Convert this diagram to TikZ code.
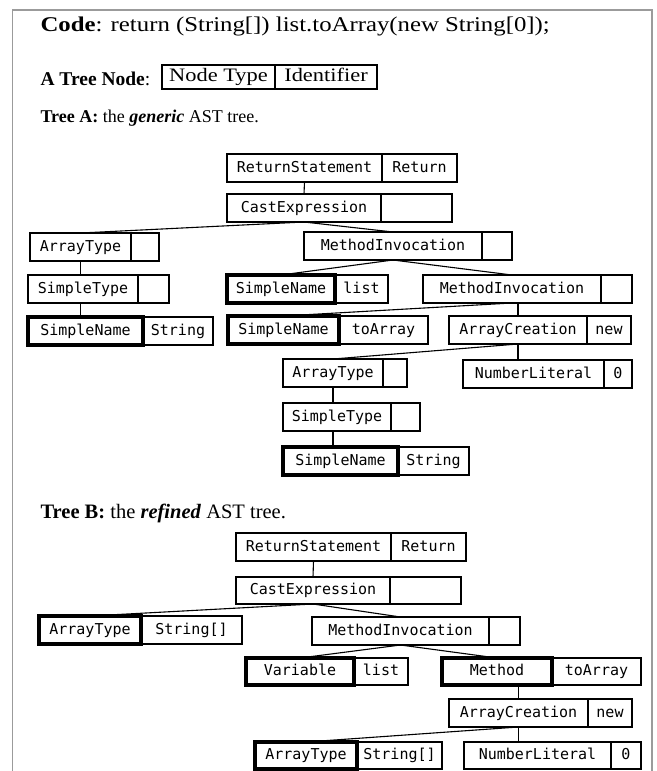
\documentclass[tikz,border=0pt]{standalone}
\usepackage{fontspec}
\setmainfont{Liberation Serif}
\newfontfamily\wideserif{Liberation Serif}[FakeStretch=1.18]
\newfontfamily\astfont{DejaVu Sans Mono}
\definecolor{framegrey}{RGB}{155,155,155}

\tikzset{
	caption/.style={anchor=base west,font=\fontsize{18}{22}\selectfont},
	astpart/.style={draw,rectangle,outer sep=0pt,inner sep=0pt,minimum height=28pt,text height=11pt,text depth=3pt,line width=1.1pt,font=\astfont\fontsize{15}{18}\selectfont},
	keypart/.style={astpart,line width=3.2pt},
	link/.style={line width=1.1pt}
}

\begin{document}
\begin{tikzpicture}[x=1pt,y=-1pt]

	\useasboundingbox (0,0) rectangle (656,771);
	\draw[framegrey,line width=1.4pt] (12.7,771) |- (652,10) -- (652,771);

	\node[caption,font=\wideserif\fontsize{21}{24}\selectfont] (code) at (37,31) {\textbf{Code}: return (String[]) list.toArray(new String[0]);};
	\node[caption,font=\fontsize{19.5}{22}\selectfont] (legend) at (37,85) {\textbf{A Tree Node}:};
	\begin{scope}[every node/.style={draw,rectangle,outer sep=0pt,inner sep=0pt,minimum height=24pt,text height=13pt,text depth=4pt,line width=1.1pt,font=\wideserif\fontsize{19}{22}\selectfont}]
		\node[anchor=north west,minimum width=113pt] (legendtype) at (162,65) {Node Type};
		\node[minimum width=102pt] (legendid) at (legendtype.east) [right] {Identifier};
	\end{scope}

	\node[caption] (treeA) at (37,122) {\textbf{Tree A:} the \textbf{\textit{generic}} AST tree.};

	\node[astpart,anchor=north west,minimum width=155pt] (aRet) at (227,154) {ReturnStatement};
	\node[astpart,minimum width=75pt] (aRetId) at (aRet.east) [right] {Return};
	\node[astpart,anchor=north west,minimum width=154pt] (aCast) at (227,194) {CastExpression};
	\node[astpart,minimum width=71pt] (aCastId) at (aCast.east) [right] {};
	\node[astpart,anchor=north west,minimum width=101pt] (aArrT) at (30,233) {ArrayType};
	\node[astpart,minimum width=28pt] (aArrTId) at (aArrT.east) [right] {};
	\node[astpart,anchor=north west,minimum width=178pt] (aMeth) at (304,232) {MethodInvocation};
	\node[astpart,minimum width=30pt] (aMethId) at (aMeth.east) [right] {};
	\node[astpart,anchor=north west,minimum width=110pt] (aSimT) at (28,275) {SimpleType};
	\node[astpart,minimum width=31pt] (aSimTId) at (aSimT.east) [right] {};
	\node[astpart,minimum width=53pt,anchor=north west] (aNameLId) at (335,275) {list};
	\node[keypart,minimum width=108pt] (aNameL) at (aNameLId.west) [left] {SimpleName};
	\node[astpart,anchor=north west,minimum width=178pt] (aMeth2) at (423,275) {MethodInvocation};
	\node[astpart,minimum width=31pt] (aMeth2Id) at (aMeth2.east) [right] {};
	\node[astpart,minimum width=70pt,anchor=north west] (aNameSId) at (143,317) {String};
	\node[keypart,minimum width=115pt] (aNameS) at (aNameSId.west) [left] {SimpleName};
	\node[astpart,minimum width=89pt,anchor=north west] (aNameTId) at (339,316) {toArray};
	\node[keypart,minimum width=111pt] (aNameT) at (aNameTId.west) [left] {SimpleName};
	\node[astpart,anchor=north west,minimum width=138pt] (aArrC) at (449,316) {ArrayCreation};
	\node[astpart,minimum width=44pt] (aArrCId) at (aArrC.east) [right] {new};
	\node[astpart,anchor=north west,minimum width=100pt] (aArrT2) at (283,359) {ArrayType};
	\node[astpart,minimum width=24pt] (aArrT2Id) at (aArrT2.east) [right] {};
	\node[astpart,anchor=north west,minimum width=141pt] (aNum) at (463,360) {NumberLiteral};
	\node[astpart,minimum width=28pt] (aNumId) at (aNum.east) [right] {0};
	\node[astpart,anchor=north west,minimum width=108pt] (aSimT2) at (283,403) {SimpleType};
	\node[astpart,minimum width=29pt] (aSimT2Id) at (aSimT2.east) [right] {};
	\node[astpart,minimum width=71pt,anchor=north west] (aNameS2Id) at (398,447) {String};
	\node[keypart,minimum width=115pt] (aNameS2) at (aNameS2Id.west) [left] {SimpleName};

	\draw[link] (aRet.south) -- (aCast.north);
	\draw[link] (aCast.south) -- (aArrT.north);
	\draw[link] (aCast.south) -- (aMeth.north);
	\draw[link] (aArrT.south) -- (aArrT.south |- aSimT.north);
	\draw[link] (aSimT.south -| aArrT.south) -- (aArrT.south |- aNameS.north);
	\draw[link] (aMeth.south) -- (aNameL.north);
	\draw[link] (aMeth.south) -- (aMeth2.north);
	\draw[link] (aMeth2.south) -- (aNameT.north);
	\draw[link] (aArrC.north |- aMeth2.south) -- (aArrC.north);
	\draw[link] (aArrC.south) -- (aArrT2.north);
	\draw[link] (aArrC.south) -- (aArrC.south |- aNum.north);
	\draw[link] (aArrT2.south) -- (aArrT2.south |- aSimT2.north);
	\draw[link] (aSimT2.south -| aArrT2.south) -- (aArrT2.south |- aNameS2.north);

	\node[caption,font=\fontsize{20.5}{24}\selectfont] (treeB) at (37,518) {\textbf{Tree B:} the \textbf{\textit{refined}} AST tree.};

	\node[astpart,anchor=north west,minimum width=155pt] (bRet) at (236,533) {ReturnStatement};
	\node[astpart,minimum width=75pt] (bRetId) at (bRet.east) [right] {Return};
	\node[astpart,anchor=north west,minimum width=154pt,minimum height=27pt] (bCast) at (236,577) {CastExpression};
	\node[astpart,minimum width=71pt,minimum height=27pt] (bCastId) at (bCast.east) [right] {};
	\node[astpart,minimum width=101pt,anchor=north west] (bArrTId) at (141,616) {String[]};
	\node[keypart,minimum width=102pt] (bArrT) at (bArrTId.west) [left] {ArrayType};
	\node[astpart,anchor=north west,minimum width=177pt] (bMeth) at (312,617) {MethodInvocation};
	\node[astpart,minimum width=31pt] (bMethId) at (bMeth.east) [right] {};
	\node[astpart,minimum width=54pt,minimum height=27pt,anchor=north west] (bVarId) at (354,658) {list};
	\node[keypart,minimum width=108pt,minimum height=27pt] (bVar) at (bVarId.west) [left] {Variable};
	\node[astpart,minimum width=89pt,minimum height=27pt,anchor=north west] (bMethodId) at (552,658) {toArray};
	\node[keypart,minimum width=110pt,minimum height=27pt] (bMethod) at (bMethodId.west) [left] {Method};
	\node[astpart,anchor=north west,minimum width=139pt] (bArrC) at (449,699) {ArrayCreation};
	\node[astpart,minimum width=44pt] (bArrCId) at (bArrC.east) [right] {new};
	\node[astpart,minimum width=85pt,minimum height=27pt,anchor=north west] (bArrT2Id) at (357,742) {String[]};
	\node[keypart,minimum width=102pt,minimum height=27pt] (bArrT2) at (bArrT2Id.west) [left] {ArrayType};
	\node[astpart,anchor=north west,minimum width=147pt,minimum height=27pt] (bNum) at (464,742) {NumberLiteral};
	\node[astpart,minimum width=30pt,minimum height=27pt] (bNumId) at (bNum.east) [right] {0};

	\draw[link] (bRet.south) -- (bCast.north);
	\draw[link] (bCast.south) -- (bArrT.north);
	\draw[link] (bCast.south) -- (bMeth.north);
	\draw[link] (bMeth.south) -- (bVar.north);
	\draw[link] (bMeth.south) -- (bMethod.north);
	\draw[link] (bArrC.north |- bMethod.south) -- (bArrC.north);
	\draw[link] (bArrC.south) -- (bArrT2.north);
	\draw[link] (bArrC.south) -- (bArrC.south |- bNum.north);

\end{tikzpicture}
\end{document}
